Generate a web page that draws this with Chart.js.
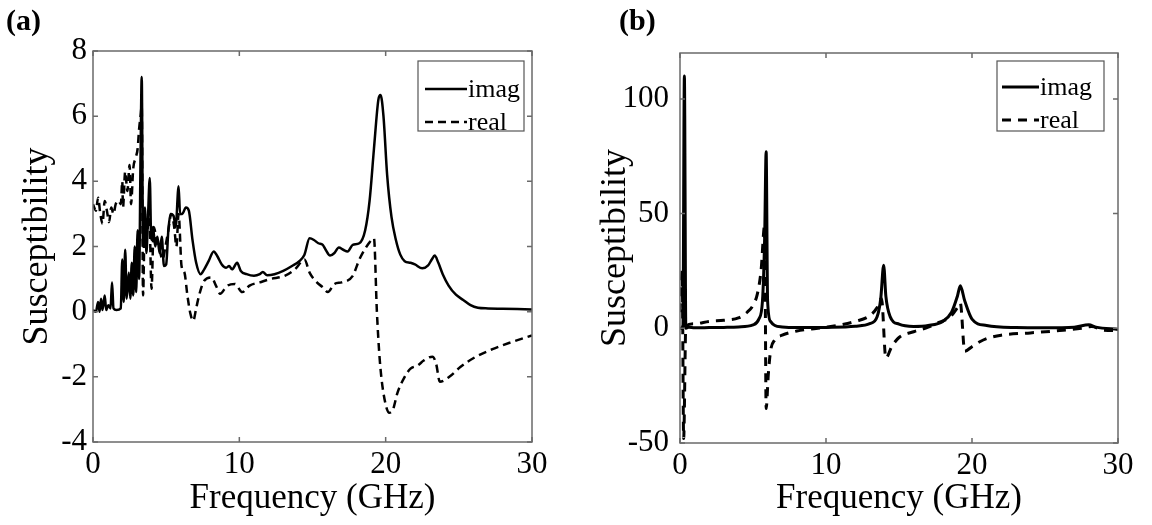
<!DOCTYPE html>
<html>
<head>
<meta charset="utf-8">
<script src="https://cdn.jsdelivr.net/npm/chart.js@4.4.1/dist/chart.umd.min.js"></script>
<style>
  body { margin: 0; background: #fff; width: 1152px; height: 525px; overflow: hidden; position: relative; }
  .panel { position: absolute; top: 0; width: 576px; height: 525px; }
  #panelA { left: 0; }
  #panelB { left: 576px; }
  .tag { position: absolute; top: 5px; font: bold 30px "Liberation Serif", serif; line-height: 1; color: #000; }
</style>
</head>
<body>
<div class="panel" id="panelA"><canvas id="chartA" width="576" height="525"></canvas></div>
<div class="panel" id="panelB"><canvas id="chartB" width="576" height="525"></canvas></div>
<div class="tag" style="left:6px">(a)</div>
<div class="tag" style="left:619px">(b)</div>
<script>
const seriesNames = ["imag", "real"];

// panel (a)
const freqImagA = [0, 0.2, 0.35, 0.45, 0.55, 0.65, 0.8, 0.9, 1.05, 1.2, 1.3, 1.4, 1.6, 1.9, 2.0, 2.1, 2.2, 2.3, 2.45, 2.55, 2.65, 2.75, 2.85, 2.95, 3.05, 3.15, 3.25, 3.33, 3.42, 3.55, 3.65, 3.75, 3.88, 3.98, 4.1, 4.25, 4.4, 4.55, 4.7, 4.85, 5.0, 5.15, 5.3, 5.5, 5.65, 5.85, 5.95, 6.1, 6.35, 6.55, 6.8, 7.05, 7.35, 7.6, 7.9, 8.25, 8.5, 8.8, 9.1, 9.3, 9.5, 9.85, 10.1, 10.5, 11.0, 11.4, 11.6, 11.9, 12.4, 13.0, 13.6, 14.1, 14.45, 14.8, 15.1, 15.4, 15.7, 15.9, 16.2, 16.5, 16.8, 17.1, 17.4, 17.75, 18.2, 18.6, 18.9, 19.2, 19.5, 19.65, 19.85, 20.1, 20.4, 20.7, 21.0, 21.3, 21.7, 22.0, 22.5, 22.9, 23.15, 23.35, 23.6, 23.9, 24.3, 24.8, 25.3, 25.8, 26.3, 27.0, 28.0, 29.0, 30.0];
const imagA = [0.05, 0.0, 0.3, 0.0, 0.4, 0.05, 0.5, 0.05, 0.2, 0.1, 0.9, 0.1, 0.05, 0.1, 1.6, 0.3, 1.9, 0.4, 1.2, 0.4, 1.5, 0.5, 2.0, 0.6, 2.5, 1.0, 4.8, 7.2, 2.0, 3.2, 1.8, 2.8, 4.1, 2.2, 2.6, 2.0, 2.3, 1.8, 2.3, 1.4, 1.45, 2.5, 3.0, 2.95, 2.6, 3.85, 3.0, 3.0, 3.2, 3.1, 2.2, 1.5, 1.15, 1.3, 1.55, 1.85, 1.7, 1.45, 1.35, 1.4, 1.3, 1.5, 1.25, 1.15, 1.1, 1.15, 1.22, 1.12, 1.15, 1.25, 1.4, 1.55, 1.75, 2.25, 2.2, 2.1, 2.05, 1.9, 1.72, 1.8, 1.97, 1.9, 1.85, 2.05, 2.1, 2.5, 3.4, 5.0, 6.5, 6.65, 6.0, 4.2, 2.9, 2.2, 1.75, 1.55, 1.5, 1.45, 1.33, 1.42, 1.6, 1.72, 1.5, 1.15, 0.8, 0.52, 0.36, 0.2, 0.12, 0.1, 0.09, 0.08, 0.07];
const freqRealA = [0, 0.2, 0.35, 0.5, 0.65, 0.8, 0.95, 1.1, 1.25, 1.4, 1.55, 1.75, 1.9, 2.0, 2.05, 2.2, 2.35, 2.5, 2.6, 2.75, 2.9, 3.05, 3.15, 3.25, 3.33, 3.42, 3.55, 3.7, 3.85, 4.0, 4.15, 4.35, 4.55, 4.75, 4.95, 5.15, 5.35, 5.55, 5.7, 5.85, 6.05, 6.25, 6.45, 6.65, 6.85, 7.05, 7.25, 7.6, 8.1, 8.4, 8.7, 9.0, 9.2, 9.7, 10.2, 10.7, 11.4, 12.1, 13.1, 13.8, 14.45, 14.8, 15.3, 15.7, 16.05, 16.5, 17.0, 17.75, 18.2, 18.85, 19.2, 19.4, 19.6, 19.85, 20.25, 20.5, 20.8, 21.3, 21.7, 22.2, 22.6, 23.2, 23.45, 23.7, 24.35, 25.1, 26.1, 27.3, 28.5, 30.0];
const realA = [3.3, 3.1, 3.5, 3.0, 2.7, 3.4, 3.1, 2.75, 3.2, 3.0, 3.3, 3.4, 3.3, 4.0, 3.2, 4.3, 3.7, 4.5, 3.3, 4.4, 4.7, 5.0, 5.6, 6.0, 6.3, 0.5, 3.0, 2.5, 2.9, 0.7, 2.6, 2.2, 1.9, 1.6, 2.0, 2.5, 3.0, 2.6, 2.0, 3.0, 1.4, 1.2, 0.5, -0.05, -0.28, 0.1, 0.5, 0.95, 1.05, 0.8, 0.55, 0.7, 0.8, 0.85, 0.6, 0.8, 0.9, 1.0, 1.1, 1.3, 1.6, 1.2, 0.9, 0.75, 0.6, 0.85, 0.9, 1.1, 1.6, 2.1, 2.25, 0.0, -1.5, -2.5, -3.1, -3.0, -2.5, -2.0, -1.75, -1.65, -1.5, -1.38, -1.6, -2.15, -2.0, -1.7, -1.4, -1.15, -0.95, -0.73];

// panel (b)
const freqImagB = [0, 0.2, 0.3, 0.4, 0.6, 1, 2, 3, 4, 5, 5.4, 5.65, 5.8, 5.9, 6.0, 6.2, 6.5, 7, 8, 10, 12, 13, 13.5, 13.75, 13.95, 14.1, 14.4, 15, 16, 17, 18, 18.6, 19.0, 19.2, 19.5, 20, 21, 23, 25, 27, 28, 28.5, 30];
const imagB = [0, 0, 110, 0, 0.5, 0.2, 0.3, 0.4, 0.6, 1.5, 4, 12, 40, 77, 12, 3, 1.2, 0.6, 0.3, 0.4, 0.9, 2, 5, 13, 27.5, 14, 5, 1.8, 0.8, 1.2, 3, 7, 14, 18.5, 12, 4, 1.2, 0.3, 0.2, 0.5, 1.5, 0.5, -0.5];
const freqRealB = [0, 0.15, 0.25, 0.4, 1, 2, 3, 4, 4.6, 5.0, 5.3, 5.55, 5.8, 5.9, 6.05, 6.2, 6.5, 7, 8, 9, 10, 11, 12, 13, 13.5, 13.8, 14.1, 14.5, 15, 16, 17, 17.5, 18.5, 19.0, 19.2, 19.5, 20, 20.5, 21, 22, 24, 26, 27.5, 28.2, 29, 30];
const realB = [7, 25, -48, 1, 2, 3, 3.5, 4.5, 7, 10, 15, 25, 45, -35, -20, -10, -5, -3, -1.2, -0.3, 0.5, 1.5, 3, 5.5, 9, 13, -13, -8, -4, -1.5, 0.5, 2, 5, 9, 11, -10, -8, -6, -4.5, -3, -2, -1, 0, 0.8, -0.8, -1];

function toPoints(xs, ys) {
    return xs.map((x, i) => ({ x: x, y: ys[i] }));
}

// frame with inward ticks + legend box drawn inside the plot
const framePlugin = {
    id: "frame",
    afterDatasetsDraw(chart, args, opts) {
        let ctx = chart.ctx;
        let a = chart.chartArea;
        let xs = chart.scales.x, ys = chart.scales.y;
        ctx.save();
        ctx.strokeStyle = "#6a6a6a";
        ctx.lineWidth = 1.5;
        ctx.setLineDash([]);
        ctx.strokeRect(a.left, a.top, a.right - a.left, a.bottom - a.top);
        ctx.beginPath();
        xs.ticks.forEach(t => {
            let px = xs.getPixelForValue(t.value);
            ctx.moveTo(px, a.bottom); ctx.lineTo(px, a.bottom - 5);
            ctx.moveTo(px, a.top); ctx.lineTo(px, a.top + 5);
        });
        ys.ticks.forEach(t => {
            let py = ys.getPixelForValue(t.value);
            ctx.moveTo(a.left, py); ctx.lineTo(a.left + 5, py);
            ctx.moveTo(a.right, py); ctx.lineTo(a.right - 5, py);
        });
        ctx.stroke();

        // legend
        let lx = a.right - opts.right - opts.width;
        let ly = a.top + opts.top;
        ctx.fillStyle = "#fff";
        ctx.fillRect(lx, ly, opts.width, opts.height);
        ctx.strokeStyle = "#555";
        ctx.lineWidth = 1.2;
        ctx.strokeRect(lx, ly, opts.width, opts.height);
        chart.data.datasets.forEach((ds, i) => {
            let yy = ly + opts.rows[i];
            ctx.strokeStyle = "#000";
            ctx.lineWidth = ds.borderWidth;
            ctx.setLineDash(ds.borderDash || []);
            ctx.beginPath();
            ctx.moveTo(lx + opts.lineStart, yy);
            ctx.lineTo(lx + opts.lineEnd, yy);
            ctx.stroke();
            ctx.setLineDash([]);
            ctx.fillStyle = "#000";
            ctx.font = "26px 'Liberation Serif', serif";
            ctx.textBaseline = "middle";
            ctx.fillText(ds.label, lx + opts.lineEnd + 1, yy + 1);
        });
        ctx.restore();
    }
};

function makeChart(canvasId, imag, real, yMin, yMax, yStep, lay) {
    let ctx = document.getElementById(canvasId).getContext("2d");
    return new Chart(ctx, {
        type: "line",
        data: {
            datasets: [
                { label: seriesNames[0], data: imag, borderColor: "#000", borderWidth: lay.lw, pointRadius: 0, cubicInterpolationMode: "monotone" },
                { label: seriesNames[1], data: real, borderColor: "#000", borderWidth: lay.lw, borderDash: lay.dash, pointRadius: 0, cubicInterpolationMode: "monotone" }
            ]
        },
        options: {
            responsive: false,
            animation: false,
            devicePixelRatio: 1,
            layout: { padding: { top: lay.top, right: lay.right, left: 0, bottom: 0 } },
            scales: {
                x: {
                    type: "linear", min: 0, max: 30,
                    grid: { display: false, drawTicks: false },
                    border: { display: false },
                    ticks: { stepSize: 10, padding: 4, color: "#000", font: { family: "Liberation Serif", size: 31 } },
                    title: { display: true, text: "Frequency (GHz)", color: "#000", padding: { top: 0, bottom: 5 }, font: { family: "Liberation Serif", size: 35 } },
                    afterFit: s => { s.height = lay.xH; }
                },
                y: {
                    type: "linear", min: yMin, max: yMax,
                    grid: { display: false, drawTicks: false },
                    border: { display: false },
                    ticks: { stepSize: yStep, padding: lay.yPad, color: "#000", font: { family: "Liberation Serif", size: 31 } },
                    afterBuildTicks: s => { s.ticks = s.ticks.filter(t => Math.abs(t.value % yStep) < 1e-9); },
                    title: { display: true, text: "Susceptibility", color: "#000", padding: { top: lay.titlePad, bottom: 0 }, font: { family: "Liberation Serif", size: 36 } },
                    afterFit: s => { s.width = lay.yW; }
                }
            },
            plugins: {
                legend: { display: false },
                tooltip: { enabled: false },
                frame: lay.legend
            }
        },
        plugins: [framePlugin]
    });
}

makeChart("chartA", toPoints(freqImagA, imagA), toPoints(freqRealA, realA), -4, 8, 2, {
    lw: 2.5, dash: [8, 5], top: 51, right: 44, xH: 83, yW: 93, yPad: 6, titlePad: 16,
    legend: { right: 8, top: 10, width: 106, height: 70, rows: [28, 61], lineStart: 7, lineEnd: 49 }
});
makeChart("chartB", toPoints(freqImagB, imagB), toPoints(freqRealB, realB), -50, 120, 50, {
    lw: 3, dash: [9, 7], top: 53, right: 34, xH: 82, yW: 104, yPad: 11, titlePad: 18,
    legend: { right: 14, top: 8, width: 107, height: 70, rows: [26, 59], lineStart: 5, lineEnd: 42 }
});
</script>
</body>
</html>
